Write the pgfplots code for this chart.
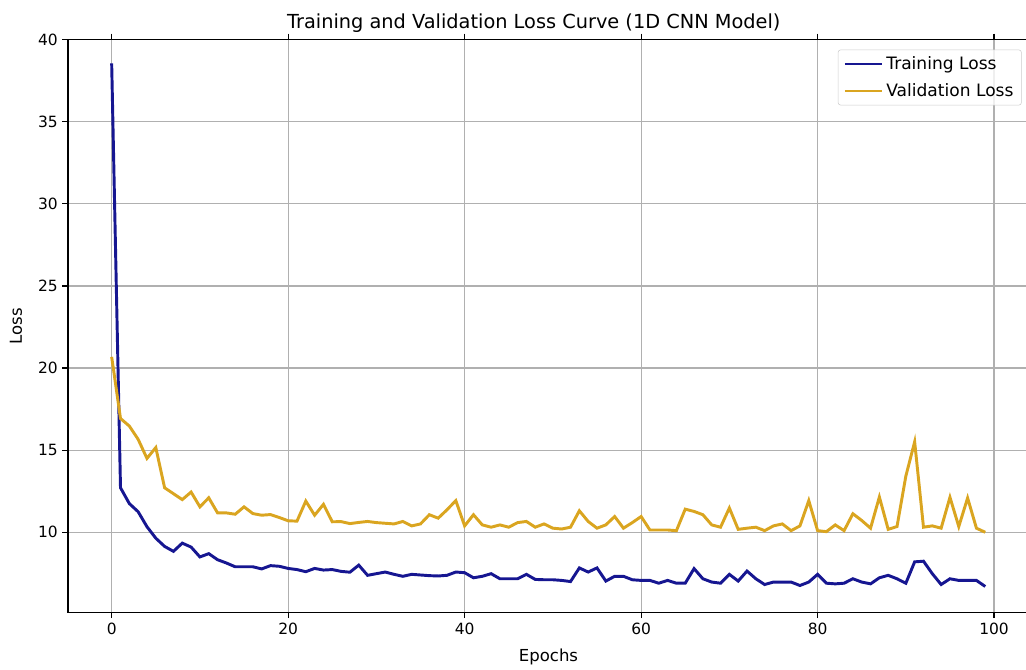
\documentclass[border=0pt]{standalone}
\usepackage{fontspec}
\setmainfont{DejaVu Sans}
\usepackage{pgfplots}
\usepackage{pgfplotstable}
\pgfplotsset{compat=1.18}
\definecolor{trainblue}{RGB}{22,22,145}
\definecolor{valgold}{RGB}{218,165,32}
\definecolor{gridgray}{RGB}{176,176,176}

% loss per epoch
\pgfplotstableread{
epoch train val
0 38.55 20.68
1 12.71 16.93
2 11.75 16.47
3 11.25 15.66
4 10.34 14.50
5 9.64 15.16
6 9.14 12.71
7 8.84 12.35
8 9.34 11.99
9 9.10 12.45
10 8.50 11.55
11 8.70 12.10
12 8.33 11.18
13 8.13 11.18
14 7.90 11.10
15 7.90 11.55
16 7.90 11.14
17 7.77 11.04
18 7.97 11.08
19 7.93 10.90
20 7.80 10.70
21 7.73 10.68
22 7.60 11.90
23 7.80 11.04
24 7.70 11.70
25 7.73 10.64
26 7.62 10.65
27 7.57 10.53
28 8.00 10.60
29 7.38 10.66
30 7.48 10.59
31 7.58 10.55
32 7.44 10.51
33 7.32 10.66
34 7.44 10.39
35 7.40 10.51
36 7.36 11.07
37 7.34 10.86
38 7.38 11.37
39 7.58 11.93
40 7.54 10.39
41 7.23 11.07
42 7.32 10.45
43 7.48 10.31
44 7.17 10.45
45 7.17 10.31
46 7.17 10.59
47 7.44 10.66
48 7.13 10.31
49 7.11 10.51
50 7.11 10.25
51 7.07 10.20
52 7.00 10.31
53 7.83 11.31
54 7.58 10.66
55 7.83 10.25
56 7.03 10.45
57 7.32 10.96
58 7.32 10.25
59 7.11 10.59
60 7.07 10.96
61 7.07 10.14
62 6.90 10.14
63 7.07 10.14
64 6.90 10.10
65 6.90 11.41
66 7.79 11.27
67 7.17 11.07
68 6.97 10.45
69 6.90 10.31
70 7.44 11.48
71 7.03 10.18
72 7.64 10.25
73 7.17 10.31
74 6.82 10.10
75 6.97 10.39
76 6.97 10.51
77 6.97 10.10
78 6.76 10.39
79 6.97 11.93
80 7.44 10.10
81 6.90 10.04
82 6.86 10.45
83 6.90 10.10
84 7.17 11.13
85 6.97 10.72
86 6.86 10.25
87 7.23 12.15
88 7.38 10.18
89 7.17 10.35
90 6.90 13.42
91 8.20 15.51
92 8.24 10.31
93 7.48 10.39
94 6.82 10.25
95 7.17 12.13
96 7.07 10.35
97 7.07 12.09
98 7.07 10.25
99 6.70 10.00
}\losstable

\begin{document}
\begin{tikzpicture}
\useasboundingbox (-51pt,-42.3pt) rectangle (718.5pt,459.45pt);
\begin{axis}[
    at={(0,0)}, anchor=south west,
    scale only axis,
    width=720.7pt, height=430pt,
    xmin=-4.95, xmax=103.95,
    ymin=5.11, ymax=40.02,
    xtick={0,20,...,100},
    ytick={10,15,...,40},
    font=\fontsize{11.6pt}{14pt}\selectfont,
    /pgf/number format/assume math mode=true,
    tick align=outside,
    major tick length=4.2pt,
    tick style={black, line width=0.9pt},
    axis line style={line width=0.9pt},
    grid=major,
    grid style={gridgray, line width=0.9pt},
    title={Training and Validation Loss Curve (1D CNN Model)},
    title style={font=\fontsize{14.5pt}{17pt}\selectfont, inner sep=0pt, yshift=-1pt, xshift=-11pt},
    xlabel={Epochs},
    xlabel style={font=\fontsize{12.4pt}{15pt}\selectfont, yshift=-4pt},
    ylabel={Loss},
    ylabel style={font=\fontsize{12.4pt}{15pt}\selectfont, yshift=5pt},
    legend style={at={(0.9925,0.982)}, anchor=north east, draw=gray!40,
        rounded corners=2pt, fill=white, fill opacity=0.8, text opacity=1,
        inner xsep=4pt, inner ysep=3pt, row sep=5pt,
        font=\fontsize{12.8pt}{15pt}\selectfont},
    legend cell align=left,
    legend image code/.code={\draw[#1] (0pt,0pt) -- (28pt,0pt);},
]
\addplot[trainblue, line width=2.2pt] table[x=epoch, y=train] {\losstable};
\addlegendentry{Training Loss}
\addplot[valgold, line width=2.2pt] table[x=epoch, y=val] {\losstable};
\addlegendentry{Validation Loss}
\end{axis}
\end{tikzpicture}
\end{document}
